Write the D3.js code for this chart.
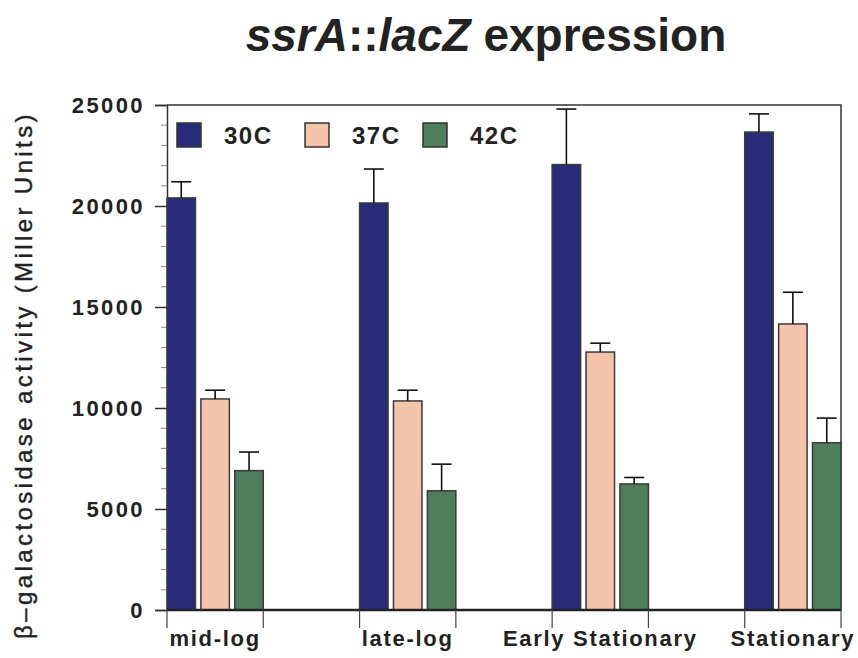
<!DOCTYPE html>
<html>
<head>
<meta charset="utf-8">
<script src="https://cdn.jsdelivr.net/npm/d3@7"></script>
<style>
  body { margin: 0; background: #fff; }
  text { font-family: "Liberation Sans", Arial, sans-serif; fill: #222; }
</style>
</head>
<body>
<svg id="chart" width="858" height="658"></svg>
<script>
// data
const phases = ["mid-log", "late-log", "Early Stationary", "Stationary"];
const temps = ["30C", "37C", "42C"];
const values30 = [20400, 20150, 22050, 23660];
const values37 = [10450, 10350, 12770, 14160];
const values42 = [6900, 5900, 6240, 8280];
const err30 = [800, 1680, 2750, 900];
const err37 = [430, 530, 440, 1570];
const err42 = [920, 1320, 320, 1220];
const yTicks = [0, 5000, 10000, 15000, 20000, 25000];

const colors = { "30C": "#282c78", "37C": "#f5c3a9", "42C": "#4e7e5a" };

const rows = [];
phases.forEach((p, i) => {
  rows.push({ phase: p, temp: "30C", value: values30[i], err: err30[i] });
  rows.push({ phase: p, temp: "37C", value: values37[i], err: err37[i] });
  rows.push({ phase: p, temp: "42C", value: values42[i], err: err42[i] });
});

const svg = d3.select("#chart");
const margin = { top: 105, right: 17, bottom: 48, left: 167 };
const width = 858, height = 658;
const x0 = margin.left, x1 = width - margin.right;
const y0 = height - margin.bottom, y1 = margin.top;

const x = d3.scaleBand().domain(phases).range([x0, x1]).paddingInner(0.5).paddingOuter(0);
const xi = d3.scaleBand().domain(temps).range([0, x.bandwidth()]).paddingInner(0.16);
const y = d3.scaleLinear().domain([0, 25000]).range([y0, y1]);

// title
const title = svg.append("text")
  .attr("x", 486).attr("y", 51)
  .attr("text-anchor", "middle")
  .style("font-size", "46px").style("font-weight", "bold");
title.append("tspan").style("font-style", "italic").text("ssrA");
title.append("tspan").text("::");
title.append("tspan").style("font-style", "italic").text("lacZ");
title.append("tspan").text(" expression");

// frame top and right
svg.append("path")
  .attr("d", `M${x0},${y1}H${x1}V${y0}`)
  .attr("fill", "none").attr("stroke", "#333").attr("stroke-width", 1.5);

// y axis
const yAxis = svg.append("g")
  .attr("transform", `translate(${x0},0)`)
  .call(d3.axisLeft(y).tickValues(yTicks).tickSize(12).tickPadding(10).tickFormat(d3.format("d")));
yAxis.select(".domain").attr("stroke", "#333").attr("stroke-width", 1.5);
yAxis.selectAll(".tick line").attr("stroke", "#333").attr("stroke-width", 1.5);
yAxis.selectAll(".tick text")
  .style("font-size", "22px").style("font-weight", "bold")
  .style("letter-spacing", "2.4px").style("font-family", "Liberation Sans, Arial, sans-serif")
  .attr("fill", "#222");

// minor ticks
svg.append("g").selectAll("line")
  .data(d3.range(1000, 25000, 1000).filter(v => v % 5000 !== 0))
  .join("line")
  .attr("x1", x0 - 6).attr("x2", x0)
  .attr("y1", d => y(d)).attr("y2", d => y(d))
  .attr("stroke", "#888").attr("stroke-width", 1);

// bars
svg.append("g").selectAll("rect")
  .data(rows)
  .join("rect")
  .attr("x", d => x(d.phase) + xi(d.temp))
  .attr("y", d => y(d.value))
  .attr("width", xi.bandwidth())
  .attr("height", d => y(0) - y(d.value))
  .attr("fill", d => colors[d.temp])
  .attr("stroke", "#3a3a3a").attr("stroke-width", 1.5);

// error bars
const eb = svg.append("g").attr("stroke", "#111").attr("stroke-width", 1.6);
eb.selectAll("line.v")
  .data(rows).join("line").attr("class", "v")
  .attr("x1", d => x(d.phase) + xi(d.temp) + xi.bandwidth() / 2)
  .attr("x2", d => x(d.phase) + xi(d.temp) + xi.bandwidth() / 2)
  .attr("y1", d => y(d.value)).attr("y2", d => y(d.value + d.err));
eb.selectAll("line.c")
  .data(rows).join("line").attr("class", "c")
  .attr("x1", d => x(d.phase) + xi(d.temp) + xi.bandwidth() / 2 - 10)
  .attr("x2", d => x(d.phase) + xi(d.temp) + xi.bandwidth() / 2 + 10)
  .attr("y1", d => y(d.value + d.err)).attr("y2", d => y(d.value + d.err));

// x axis baseline, ticks at group edges, labels centred
svg.append("line")
  .attr("x1", x0).attr("x2", x1).attr("y1", y0).attr("y2", y0)
  .attr("stroke", "#222").attr("stroke-width", 2.5);
const edges = [];
phases.forEach(p => { edges.push(x(p)); edges.push(x(p) + x.bandwidth()); });
svg.append("g").selectAll("line")
  .data(edges).join("line")
  .attr("x1", d => d).attr("x2", d => d)
  .attr("y1", y0).attr("y2", y0 + 18)
  .attr("stroke", "#444").attr("stroke-width", 1.2);
svg.append("g").selectAll("text")
  .data(phases).join("text")
  .attr("x", d => x(d) + x.bandwidth() / 2)
  .attr("y", 646)
  .attr("text-anchor", "middle")
  .style("font-size", "22px").style("font-weight", "bold").style("letter-spacing", "1.7px")
  .text(d => d);

// y label
svg.append("text")
  .attr("transform", `translate(32,375) rotate(-90)`)
  .attr("text-anchor", "middle")
  .style("font-size", "24px").style("letter-spacing", "3.4px")
  .attr("stroke", "#222").attr("stroke-width", 0.4)
  .text("β–galactosidase activity (Miller Units)");

// legend
const legendX = [177, 305, 423];
const lg = svg.append("g").selectAll("g")
  .data(temps).join("g")
  .attr("transform", (d, i) => `translate(${legendX[i]},123)`);
lg.append("rect")
  .attr("width", 24).attr("height", 24)
  .attr("fill", d => colors[d])
  .attr("stroke", "#333").attr("stroke-width", 1.5);
lg.append("text")
  .attr("x", 47).attr("y", 21)
  .style("font-size", "24px").style("font-weight", "bold").style("letter-spacing", "1.5px")
  .text(d => d);
</script>
</body>
</html>
